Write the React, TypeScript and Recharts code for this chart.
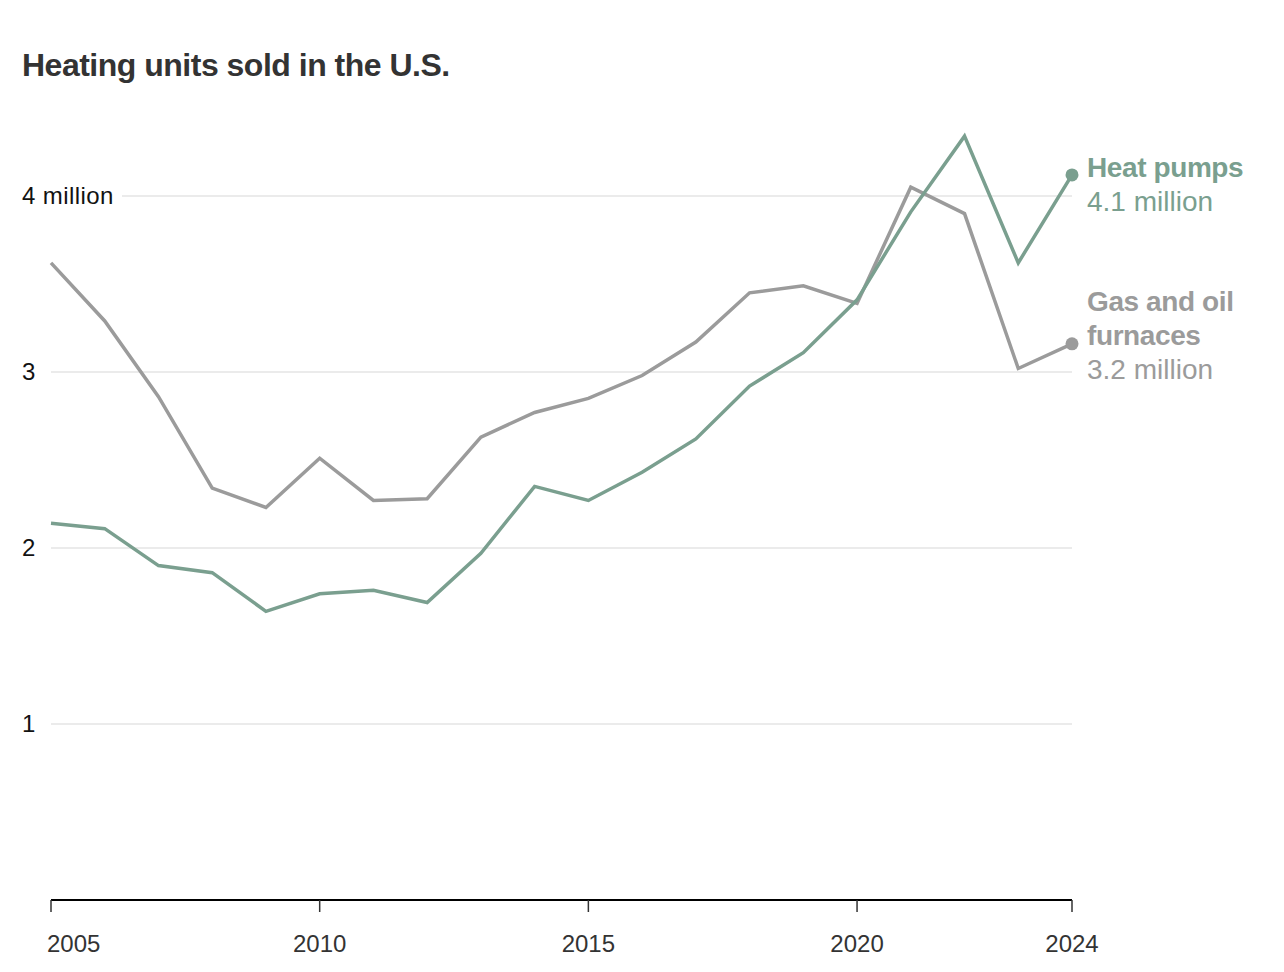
import React from 'react'
import { LineChart, Line, XAxis, YAxis, CartesianGrid, LabelList } from 'recharts'

const years = [2005, 2006, 2007, 2008, 2009, 2010, 2011, 2012, 2013, 2014, 2015, 2016, 2017, 2018, 2019, 2020, 2021, 2022, 2023, 2024]
const heatPumps = [2.14, 2.11, 1.9, 1.86, 1.64, 1.74, 1.76, 1.69, 1.97, 2.35, 2.27, 2.43, 2.62, 2.92, 3.11, 3.41, 3.91, 4.34, 3.62, 4.12]
const furnaces = [3.62, 3.29, 2.86, 2.34, 2.23, 2.51, 2.27, 2.28, 2.63, 2.77, 2.85, 2.98, 3.17, 3.45, 3.49, 3.39, 4.05, 3.9, 3.02, 3.16]
const xTicks = [2005, 2010, 2015, 2020, 2024]
const yTicks = [1, 2, 3, 4]
const heatLabel = ['Heat pumps']
const furnaceLabel = ['Gas and oil', 'furnaces']

const GREEN = '#7a9f8f'
const GRAY = '#9b9b9b'
const FONT = '"Liberation Sans", Arial, sans-serif'

const data = years.map((year, i) => ({
  year,
  heatPumps: heatPumps[i],
  furnaces: furnaces[i],
}))
const last = data.length - 1

function YTick({ y, payload }: any) {
  const text = payload.value === 4 ? '4 million' : String(payload.value)
  return (
    <g>
      {payload.value === 4 && <rect x={18} y={y - 14} width={104} height={28} fill="#fff" />}
      <text x={22} y={y} dy={8} fontSize={24} letterSpacing={0.4} fill="#121212" fontFamily={FONT}>
        {text}
      </text>
    </g>
  )
}

function XTick({ x, y, payload, index }: any) {
  return (
    <text
      x={index === 0 ? x - 4 : x}
      y={y}
      dy={20}
      textAnchor={index === 0 ? 'start' : 'middle'}
      fontSize={24}
      fill="#333"
      fontFamily={FONT}
    >
      {payload.value}
    </text>
  )
}

function EndDot(color: string) {
  return (props: any) => {
    const { cx, cy, index } = props
    if (index !== last) return <g key={`d${index}`} />
    return <circle key={`d${index}`} cx={cx} cy={cy} r={6.5} fill={color} />
  }
}

function EndLabel(lines: string[], color: string, firstOffset: number) {
  return (props: any) => {
    const { x, y, index, value } = props
    if (index !== last) return null
    return (
      <text x={x + 15} y={y + firstOffset} fontFamily={FONT} fontSize={28} fill={color}>
        {lines.map((l, i) => (
          <tspan key={l} x={x + 15} dy={i === 0 ? 0 : 34} fontWeight="bold" letterSpacing={-0.4}>
            {l}
          </tspan>
        ))}
        <tspan x={x + 15} dy={34}>
          {Number(value).toFixed(1)} million
        </tspan>
      </text>
    )
  }
}

export default function App() {
  return (
    <div style={{ position: 'absolute', left: 0, top: 0, width: 1284, height: 972, background: '#fff' }}>
      <div
        style={{
          position: 'absolute',
          left: 22,
          top: 47,
          fontFamily: FONT,
          fontWeight: 'bold',
          fontSize: 32,
          color: '#333',
          letterSpacing: -0.5,
        }}
      >
        Heating units sold in the U.S.
      </div>
      <LineChart width={1284} height={972} data={data} margin={{ top: 108, right: 212, bottom: 0, left: 0 }}>
        <CartesianGrid vertical={false} horizontalValues={yTicks} stroke="#ebebeb" strokeWidth={2} />
        <XAxis
          dataKey="year"
          type="number"
          domain={[2005, 2024]}
          ticks={xTicks}
          height={72}
          axisLine={{ stroke: '#000', strokeWidth: 2 }}
          tickLine={{ stroke: '#333', strokeWidth: 1.5 }}
          tickSize={12}
          tickMargin={20}
          tick={<XTick />}
        />
        <YAxis
          type="number"
          domain={[0, 4.5]}
          ticks={yTicks}
          width={51}
          axisLine={false}
          tickLine={false}
          tick={<YTick />}
        />
        <Line
          dataKey="furnaces"
          stroke={GRAY}
          strokeWidth={3.5}
          dot={EndDot(GRAY)}
          activeDot={false}
          isAnimationActive={false}
        >
          <LabelList dataKey="furnaces" content={EndLabel(furnaceLabel, GRAY, -33)} />
        </Line>
        <Line
          dataKey="heatPumps"
          stroke={GREEN}
          strokeWidth={3.5}
          dot={EndDot(GREEN)}
          activeDot={false}
          isAnimationActive={false}
        >
          <LabelList dataKey="heatPumps" content={EndLabel(heatLabel, GREEN, 2)} />
        </Line>
      </LineChart>
    </div>
  )
}
